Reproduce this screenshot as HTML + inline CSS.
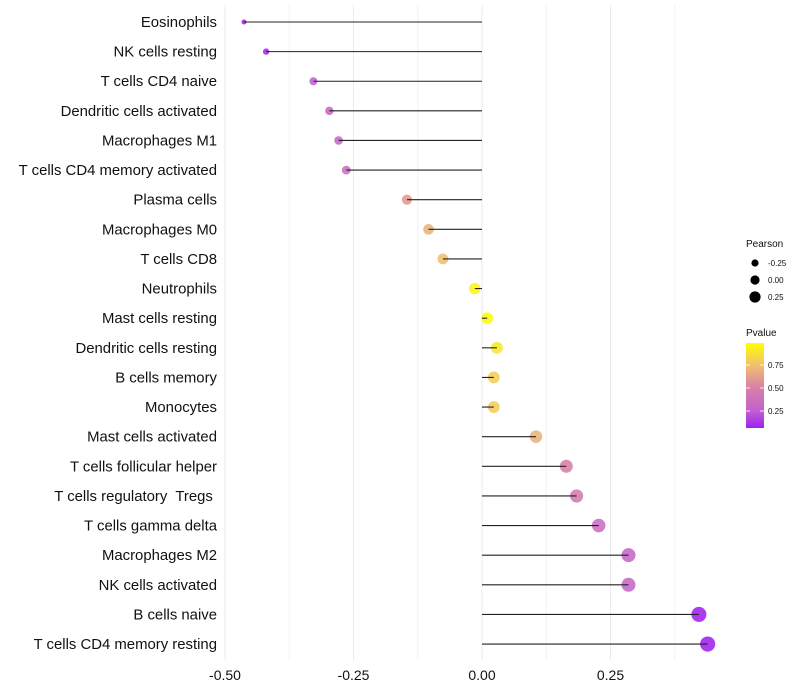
<!DOCTYPE html>
<html><head><meta charset="utf-8"><style>
body{margin:0;background:#fff;}
svg{display:block;font-family:"Liberation Sans",sans-serif;}
text{white-space:pre;}
</style></head><body>
<svg id="chart" width="800" height="700"></svg>
<script>
const categories=["Eosinophils","NK cells resting","T cells CD4 naive","Dendritic cells activated","Macrophages M1","T cells CD4 memory activated","Plasma cells","Macrophages M0","T cells CD8","Neutrophils","Mast cells resting","Dendritic cells resting","B cells memory","Monocytes","Mast cells activated","T cells follicular helper","T cells regulatory  Tregs ","T cells gamma delta","Macrophages M2","NK cells activated","B cells naive","T cells CD4 memory resting"];
const pearson=[-0.463,-0.42,-0.328,-0.297,-0.279,-0.264,-0.146,-0.104,-0.076,-0.014,0.010,0.029,0.023,0.023,0.105,0.164,0.184,0.227,0.285,0.285,0.422,0.439];
const pvalue=[0.05,0.1,0.25,0.3,0.3,0.35,0.6,0.7,0.75,0.95,0.97,0.9,0.8,0.8,0.7,0.5,0.45,0.35,0.3,0.3,0.06,0.05];
const xTicks=[-0.5,-0.25,0,0.25];
const xTickLabels=["-0.50","-0.25","0.00","0.25"];
const minorTicks=[-0.375,-0.125,0.125,0.375];
const sizeLegend=[-0.25,0,0.25];
const sizeLegendLabels=["-0.25","0.00","0.25"];
const colorTicks=[0.75,0.5,0.25];
const colorTickLabels=["0.75","0.50","0.25"];

const NS="http://www.w3.org/2000/svg";
const svg=document.getElementById("chart");
function mk(tag,attrs,parent){const e=document.createElementNS(NS,tag);for(const k in attrs)e.setAttribute(k,attrs[k]);(parent||svg).appendChild(e);return e;}
const x=v=>482+v*514;
const y=i=>22+i*29.62;
const r=v=>{const a=33.7+54*v;return a<12?Math.max(1.5,Math.sqrt(a)-(12-a)*0.12):Math.sqrt(a);};
const stops=[[0.065,[160,32,240]],[0.25,[192,96,208]],[0.5,[216,128,168]],[0.75,[240,192,112]],[0.99,[255,255,0]]];
function col(p){if(p<=stops[0][0])return `rgb(${stops[0][1]})`;for(let i=1;i<stops.length;i++){if(p<=stops[i][0]){const t=(p-stops[i-1][0])/(stops[i][0]-stops[i-1][0]);const a=stops[i-1][1],b=stops[i][1];return `rgb(${a.map((c,j)=>Math.round(c+(b[j]-c)*t)).join(",")})`;}}return "rgb(255,255,0)";}

minorTicks.forEach(t=>{const l=mk("line",{x1:x(t),x2:x(t),y1:5,y2:660,stroke:"#f2f2f2","stroke-width":1});

});
xTicks.forEach((t,i)=>{const l=mk("line",{x1:x(t),x2:x(t),y1:5,y2:660,stroke:"#ebebeb","stroke-width":1});


const tx=mk("text",{x:x(t),y:680,"text-anchor":"middle","font-size":14,fill:"#111"});tx.textContent=xTickLabels[i];

});

categories.forEach((c,i)=>{
const lab=mk("text",{x:217,y:y(i)+5,"text-anchor":"end","font-size":14.9,fill:"#111"});lab.textContent=c;


const d=mk("circle",{cx:x(pearson[i]),cy:y(i),r:r(pearson[i]),fill:col(pvalue[i]),"fill-opacity":0.88});


const ln=mk("line",{x1:x(0),x2:x(pearson[i]),y1:y(i),y2:y(i),stroke:"#222","stroke-width":1.1});


});

const lg=mk("g",{});


const t1=mk("text",{x:746,y:247,"font-size":10,fill:"#111"},lg);t1.textContent="Pearson";


const lr=[3.6,4.6,5.6];
sizeLegend.forEach((v,i)=>{const yy=263+i*17;
const c=mk("circle",{cx:755,cy:yy,r:lr[i],fill:"#000"},lg);


const t=mk("text",{x:768,y:yy+3,"font-size":8,fill:"#111"},lg);t.textContent=sizeLegendLabels[i];

});
const t2=mk("text",{x:746,y:336,"font-size":10,fill:"#111"},lg);t2.textContent="Pvalue";


const defs=mk("defs",{});const gr=mk("linearGradient",{id:"pg",x1:0,y1:1,x2:0,y2:0},defs);
stops.forEach(s=>mk("stop",{offset:(s[0]-0.065)/(0.99-0.065),"stop-color":`rgb(${s[1]})`},gr));
const bar=mk("rect",{x:746,y:343,width:18,height:85,fill:"url(#pg)"},lg);


const cy=p=>428-(p-0.065)/(0.99-0.065)*85;
colorTicks.forEach((p,i)=>{mk("line",{x1:746,x2:750,y1:cy(p),y2:cy(p),stroke:"#fff","stroke-width":0.8},lg);mk("line",{x1:760,x2:764,y1:cy(p),y2:cy(p),stroke:"#fff","stroke-width":0.8},lg);
const t=mk("text",{x:768,y:cy(p)+3,"font-size":8,fill:"#111"},lg);t.textContent=colorTickLabels[i];

});
</script>
</body></html>
